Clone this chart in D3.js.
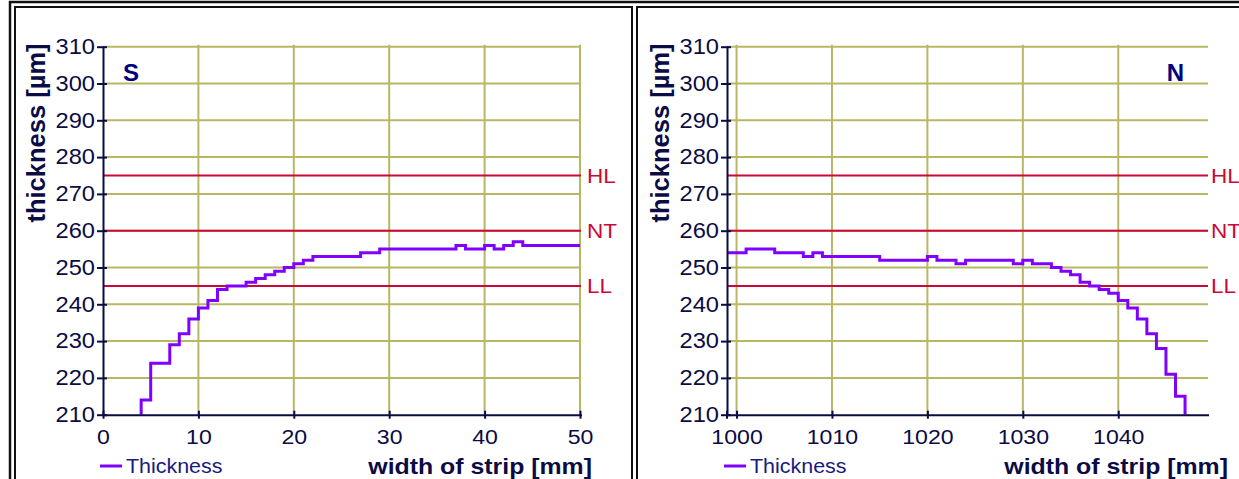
<!DOCTYPE html>
<html><head><meta charset="utf-8">
<script src="https://cdn.jsdelivr.net/npm/d3@7"></script>
<style>
body{margin:0;background:#fff;}
svg{display:block;font-family:"Liberation Sans",Arial,Helvetica,sans-serif;}
</style>
</head><body>
<svg id="c" width="1239" height="479"></svg>
<script>
// ---------- data ----------
const yTicks = [210,220,230,240,250,260,270,280,290,300,310];
const limitNames = ["HL","NT","LL"];
const limitValues = [275,260,245];

const leftTicks = [0,10,20,30,40,50];
const leftWidth = [4,5,6,7,8,9,10,11,12,13,14,15,16,17,18,19,20,21,22,23,24,25,26,27,28,29,30,31,32,33,34,35,36,37,38,39,40,41,42,43,44,45,46,47,48,49,50];
const leftThickness = [214,224,224,229,232,236,239,241,244,245,
                       245,246,247,248,249,250,251,252,253,253,
                       253,253,253,254,254,255,255,255,255,255,
                       255,255,255,256,255,255,256,255,256,257,
                       256,256,256,256,256,256,256];

const rightTicks = [1000,1010,1020,1030,1040];
const rightWidth = [999,1000,1001,1002,1003,1004,1005,1006,1007,1008,1009,1010,1011,1012,1013,1014,1015,1016,1017,1018,1019,1020,1021,1022,1023,1024,1025,1026,1027,1028,1029,1030,1031,1032,1033,1034,1035,1036,1037,1038,1039,1040,1041,1042,1043,1044,1045,1046,1047];
const rightThickness = [254,254,255,255,255,254,254,254,253,254,
                        253,253,253,253,253,253,252,252,252,252,
                        252,253,252,252,251,252,252,252,252,252,
                        251,252,251,251,250,249,248,246,245,244,
                        243,241,239,236,232,228,221,215];

// ---------- styles ----------
const SX = 1.1;
const FONT = '"Liberation Sans",Arial,Helvetica,sans-serif';
const NAVY = "#0b0b45";
const GRID = "#b8b864";
const LIMIT = "#cc0838";
const LINEC = "#8000ff";

const svg = d3.select("#c");

function stretch(sel){
  sel.each(function(){
    const t = d3.select(this);
    const x = +t.attr("x") || 0, y = +t.attr("y") || 0;
    t.attr("transform", `translate(${x},${y}) scale(${SX},1) translate(${-x},${-y})`);
  });
}

// frames
svg.append("path").attr("d","M10,479V2H1239").attr("fill","none").attr("stroke","#111").attr("stroke-width",2.5);
svg.append("path").attr("d","M15,479V7H632V479").attr("fill","none").attr("stroke","#111").attr("stroke-width",2);
svg.append("path").attr("d","M637,479V7H1239").attr("fill","none").attr("stroke","#111").attr("stroke-width",2);

function panel(cfg){
  const g = svg.append("g");
  const x = d3.scaleLinear().domain(cfg.domain).range([cfg.x0, cfg.x1]);
  const y = d3.scaleLinear().domain([yTicks[0], yTicks[yTicks.length-1]]).range([414.7, 46.7]);
  const yMin = y.domain()[0];

  // grid horizontal
  g.append("g").selectAll("line").data(yTicks.slice(1)).join("line")
    .attr("x1", cfg.x0).attr("x2", cfg.x1 + 1)
    .attr("y1", d => y(d)).attr("y2", d => y(d))
    .attr("stroke", GRID).attr("stroke-width", 2);
  // grid vertical
  g.append("g").selectAll("line").data(cfg.gridX).join("line")
    .attr("x1", d => x(d)).attr("x2", d => x(d))
    .attr("y1", y(yTicks[yTicks.length-1]) - 2).attr("y2", y(yMin))
    .attr("stroke", GRID).attr("stroke-width", 2);

  // limit lines
  g.append("g").selectAll("line").data(limitValues).join("line")
    .attr("x1", cfg.x0).attr("x2", cfg.x1 + 1)
    .attr("y1", d => y(d)).attr("y2", d => y(d))
    .attr("stroke", LIMIT).attr("stroke-width", 2);
  g.append("g").selectAll("text").data(limitValues).join("text")
    .attr("x", cfg.x1 + cfg.limitGap).attr("y", d => y(d)).attr("dy", "0.36em")
    .attr("fill", LIMIT).attr("font-size", 20.5)
    .text((d,i) => limitNames[i]).call(stretch);

  // data line
  let pts = cfg.xs.map((d,i) => [d, cfg.vs[i]]);
  if (cfg.startFromBase) pts = [[cfg.xs[0], yMin]].concat(pts);
  if (cfg.endToBase) pts[pts.length-1] = [cfg.xs[cfg.xs.length-1], yMin];
  const line = d3.line().x(d => x(d[0])).y(d => y(d[1])).curve(d3.curveStepAfter);
  g.append("path").attr("d", line(pts)).attr("fill","none")
    .attr("stroke", LINEC).attr("stroke-width", 3).attr("stroke-linejoin","miter");

  // axes
  const ya = g.append("g").attr("transform", `translate(${cfg.x0},0)`)
    .call(d3.axisLeft(y).tickValues(yTicks).tickSize(6).tickPadding(2));
  ya.attr("font-family", FONT).attr("font-size", 21.5);
  ya.select(".domain").attr("stroke", NAVY).attr("stroke-width", 2)
    .attr("d", `M0.5,${y(yMin)}V${y(yTicks[yTicks.length-1])}`);
  ya.selectAll(".tick line").attr("x1", 4).attr("stroke", NAVY).attr("stroke-width", 2);
  ya.selectAll(".tick text").attr("fill", NAVY).call(stretch);

  const xa = g.append("g").attr("transform", `translate(0,${y(yMin)})`)
    .call(d3.axisBottom(x).tickValues(cfg.ticks).tickSize(4).tickPadding(0).tickFormat(d3.format("d")));
  xa.attr("font-family", FONT).attr("font-size", 21);
  xa.select(".domain").attr("stroke", NAVY).attr("stroke-width", 2)
    .attr("d", `M${cfg.x0},0.5H${cfg.x1 + 2}`);
  xa.selectAll(".tick line").attr("y1", -4).attr("stroke", NAVY).attr("stroke-width", 2);
  xa.selectAll(".tick text").attr("fill", NAVY).attr("y", 14.5).call(stretch);
  if (cfg.originTick) {
    xa.append("line").attr("x1", cfg.x0).attr("x2", cfg.x0).attr("y1", -4).attr("y2", 4)
      .attr("stroke", NAVY).attr("stroke-width", 2);
  }
  svg.selectAll(".domain").attr("fill","none");

  // y title
  g.append("text").attr("transform", `translate(${cfg.x0 - 58},133) rotate(-90)`)
    .attr("text-anchor","middle").attr("font-weight","bold").attr("font-size", 25.5)
    .attr("fill", NAVY).text("thickness [µm]");

  // x title
  g.append("text").attr("x", cfg.titleRight).attr("y", 474).attr("text-anchor","end")
    .attr("font-weight","bold").attr("font-size", 22.6).attr("fill", NAVY)
    .text("width of strip [mm]").call(stretch);

  // legend
  g.append("line").attr("x1", cfg.x0 - 3).attr("x2", cfg.x0 + 19).attr("y1", 466).attr("y2", 466)
    .attr("stroke", LINEC).attr("stroke-width", 3);
  g.append("text").attr("x", cfg.x0 + 23).attr("y", 473).attr("font-size", 19.5)
    .attr("fill", "#1a1a80").text("Thickness").call(stretch);

  // panel label
  g.append("text").attr("x", cfg.labelX).attr("y", 81).attr("text-anchor", cfg.labelAnchor)
    .attr("font-weight","bold").attr("font-size", 24).attr("fill", "#000080").text(cfg.label);
}

panel({domain:[0,50], x0:103, x1:580, ticks:leftTicks, gridX:[10,20,30,40,50],
       xs:leftWidth, vs:leftThickness, startFromBase:true, endToBase:false, limitGap:7,
       titleRight:592, label:"S", labelX:123, labelAnchor:"start", originTick:false});
panel({domain:[999,1049.3], x0:727, x1:1207, ticks:rightTicks, gridX:[1000,1010,1020,1030,1040],
       xs:rightWidth, vs:rightThickness.concat([rightThickness[rightThickness.length-1]]), startFromBase:false, endToBase:true, limitGap:4,
       titleRight:1228, label:"N", labelX:1184, labelAnchor:"end", originTick:true});
</script>
</body></html>
